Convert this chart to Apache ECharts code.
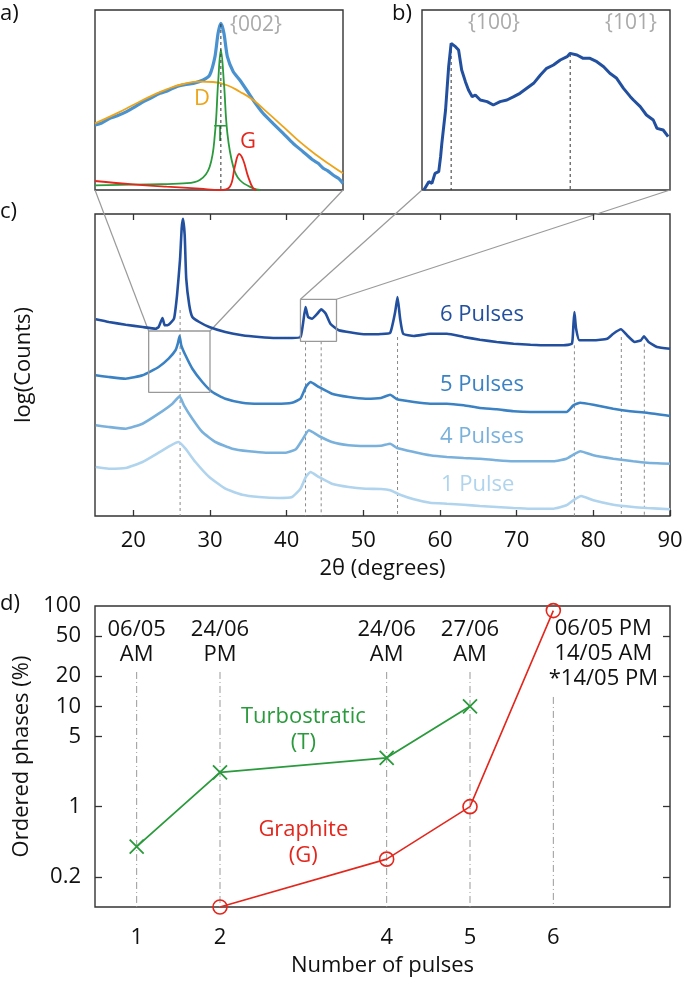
<!DOCTYPE html>
<html><head><meta charset="utf-8">
<script src="https://cdn.jsdelivr.net/npm/echarts@6/dist/echarts.min.js"></script>
<style>html,body{margin:0;padding:0;background:#fff}#chart{width:685px;height:987px}</style>
</head><body><div id="chart"></div>
<script>
// ---------- panel a: {002} peak decomposition (2θ, arb. intensity) ----------
const insetAMeasured = [[22.0,195],[22.2,200],[22.48,215],[22.7,222],[23.02,235],[23.3,250],[23.56,265],[23.8,276],[24.09,290],[24.35,298],[24.63,310],[24.9,316],[25.17,320],[25.49,330],[25.70,345],[25.87,400],[25.97,470],[26.06,500],[26.16,470],[26.27,400],[26.46,355],[26.67,330],[26.89,300],[27.10,270],[27.42,230],[27.74,200],[28.07,170],[28.39,140],[28.71,115],[29.03,90],[29.2,80],[29.36,65],[29.5,58],[29.68,45],[29.85,35],[30.0,20]];
const insetAD = [[22.0,200],[22.70,230],[23.23,255],[23.77,280],[24.31,302],[24.85,318],[25.38,325],[25.81,324],[26.24,315],[26.67,295],[27.10,270],[27.53,235],[28.07,190],[28.60,145],[29.14,105],[29.68,70],[30.0,50]];
const insetAT = [[22.0,14],[23.77,17],[24.85,20],[25.38,30],[25.70,70],[25.87,170],[25.97,320],[26.06,420],[26.16,320],[26.27,170],[26.46,70],[26.67,30],[27.10,5],[27.32,0]];
const insetAG = [[22.0,27],[23.23,17],[24.31,10],[25.38,4],[26.03,0],[26.35,10],[26.51,70],[26.65,108],[26.78,90],[26.94,40],[27.10,5],[27.21,0]];
const insetAPeak = [26.06, 498];
// ---------- panel b: {100} / {101} ----------
const insetBMeasured = [[42.03,0],[42.11,25],[42.16,20],[42.21,50],[42.27,55],[42.30,100],[42.32,140],[42.38,240],[42.43,370],[42.47,440],[42.54,430],[42.59,420],[42.64,360],[42.70,325],[42.75,300],[42.81,280],[42.86,285],[42.94,270],[43.05,265],[43.15,255],[43.26,265],[43.37,270],[43.48,280],[43.58,290],[43.69,305],[43.80,320],[43.91,345],[44.01,365],[44.12,375],[44.23,390],[44.34,400],[44.39,410],[44.50,405],[44.60,395],[44.71,395],[44.82,385],[44.93,370],[45.03,350],[45.14,335],[45.25,305],[45.36,280],[45.41,270],[45.52,250],[45.62,225],[45.73,210],[45.79,185],[45.89,180],[45.97,160]];
const insetBPeaks = [[42.47,438],[44.39,408]];
// ---------- panel c: XRD patterns, stacked log(Counts) (arb. offset) ----------
const pulses6 = [[15.1,196.7],[16.8,194],[19.0,191.3],[21.2,189],[22.9,187.3],[23.3,189],[23.8,198],[24.1,190.7],[24.6,191.3],[25.3,197.3],[25.7,220.7],[26.1,257.3],[26.3,287.3],[26.47,297.3],[26.7,280.7],[26.9,237.3],[27.3,210.7],[27.7,199],[28.6,194],[29.9,189],[32.0,184],[34.2,180.7],[36.4,179],[38.6,178],[40.7,178],[41.8,179],[42.1,190.7],[42.46,209],[42.8,199],[43.3,197.3],[44.0,202.3],[44.5,206.7],[45.1,202.3],[45.7,192.3],[46.8,185.7],[48.6,183.3],[50.3,181.7],[52.3,182],[53.5,183.3],[54.15,204],[54.46,219],[54.8,197.3],[55.2,182.3],[56.6,180],[58.7,182.3],[60.9,182.3],[63.1,179],[65.2,176.3],[67.4,174],[69.6,172.3],[71.8,171.3],[73.9,170.7],[76.1,170.7],[77.2,172.3],[77.4,190.7],[77.53,204],[77.75,187.3],[78.2,175.7],[80.0,175.7],[81.8,177.3],[82.6,182.3],[83.6,186.7],[84.4,180.7],[85.4,174],[86.2,175.7],[86.6,179.7],[87.2,174],[88.3,169],[90,167.3]];
const pulses5 = [[15.1,140.7],[16.8,139],[19.0,137.3],[21.2,140.7],[23.3,149],[24.6,157.3],[25.5,165.7],[25.8,172.3],[26.03,180],[26.25,170.7],[26.8,160.7],[27.7,147.3],[29.0,134],[30.3,124],[32.0,117.3],[34.2,113.3],[36.4,112.3],[38.6,112.3],[40.7,113.3],[41.8,117.3],[42.5,129],[43.1,134],[44.2,129],[45.9,122.3],[48.1,119],[50.3,117.3],[52.3,118],[53.5,121.3],[54.4,116.7],[56.6,114],[58.7,112.3],[60.9,112.3],[63.1,110.7],[65.2,108],[67.4,106.7],[69.6,104.7],[71.8,104],[73.9,104],[76.5,104],[77.4,110.7],[78.3,113.3],[80.0,111.3],[82.6,107.3],[84.8,104.7],[87.0,103.3],[90,100]];
const pulses4 = [[15.1,90.7],[16.8,89],[19.0,87.3],[21.2,92.3],[23.3,102.3],[25.1,112.3],[26.03,119.7],[26.6,110.7],[27.7,97.3],[29.0,84],[30.7,74],[32.9,67.3],[35.1,64.7],[37.3,63.3],[39.9,63.3],[41.2,66.7],[42.0,75.7],[42.9,85.7],[44.2,80],[45.9,74],[48.1,70.7],[50.3,70],[52.3,70.2],[53.5,72.3],[54.4,68],[56.6,64],[58.7,60.7],[60.9,59],[63.1,58],[65.2,57.3],[67.4,55.7],[69.6,54.7],[71.8,54.7],[74.8,54.7],[76.5,57.3],[77.4,61.3],[78.3,64.7],[80.0,60.7],[82.6,57.3],[85.2,54.7],[87.0,53.3],[90,52.3]];
const pulses1 = [[15.1,49],[16.8,47.3],[19.0,48],[21.2,54],[23.3,63.3],[24.9,70.7],[25.9,74],[26.8,67.3],[28.1,54],[29.9,39],[32.0,27.3],[34.2,21.3],[36.4,19],[39.0,18],[40.7,19],[41.8,27.3],[42.5,39],[43.1,44],[44.2,39],[45.9,32.3],[48.1,29],[50.3,27.3],[52.3,27],[53.5,25.7],[54.8,21.3],[56.6,16.7],[58.7,13.3],[60.9,12.3],[63.1,11.3],[65.2,10],[67.4,9],[69.6,8],[71.8,7.3],[74.8,7.3],[76.5,10.7],[77.4,15.7],[78.4,20],[80.0,15.7],[82.6,11.3],[85.2,9],[87.0,8],[90,6.7]];
const seriesNames = ['6 Pulses','5 Pulses','4 Pulses','1 Pulse'];
const refPeaks = [26.1, 42.46, 44.5, 54.46, 77.53, 83.65, 86.65];
const refPeakTops = [206, 174.7, 174.7, 179, 170.7, 179, 172.3];
const zoomBoxA = [22, 30, 123.7, 185];      // x0, x1, y0, y1
const zoomBoxB = [41.8, 46.5, 174.7, 216.7];
const cXTicks = [20,30,40,50,60,70,80,90];
// ---------- panel d: ordered phases ----------
const pulseNumbers = [1,2,4,5,6];
const turbostratic = [[1,0.4],[2,2.2],[4,3.07],[5,10]];
const graphite = [[2,0.1],[4,0.3],[5,1],[6,90]];
const dateLabels = ['06/05\nAM','24/06\nPM','24/06\nAM','27/06\nAM','06/05 PM\n14/05 AM\n*14/05 PM'];
const dateLabelPos = [[1,43.3],[2,43.3],[4,43.3],[5,43.3],[6.6,33.3]];
const dateLineTops = [22,22,22,22,12.4];
const dYTicks = [0.2,1,5,10,20,50,100];
const phaseLabels = [['Turbostratic\n(T)',3.0,5.86],['Graphite\n(G)',3.0,0.44]];

const FONT = "'Open Sans', 'DejaVu Sans', sans-serif";
const C6 = '#22509f', C5 = '#3a82c3', C4 = '#79b1dc', C1 = '#b0d4ed';
const GREEN = '#2a9a3c', RED = '#e3271d', ORANGE = '#eea419', MBLUE = '#4a92cf';
const AX = '#333';

const chart = echarts.init(document.getElementById('chart'), null, {renderer:'canvas'});
const hidden = {axisLine:{show:false},axisTick:{show:false},axisLabel:{show:false},splitLine:{show:false}};
const lg = v => Math.log10(v);

const vline = (xi, yi, x, top, bottom, color, type, z) => ({
  type:'line', xAxisIndex:xi, yAxisIndex:yi, data:[[x,top],[x,bottom]], symbol:'none', silent:true,
  lineStyle:{color, width:1, type}, z: z||1, animation:false
});

const series = [];
// panel a
series.push({type:'line', xAxisIndex:0, yAxisIndex:0, data:insetAMeasured, symbol:'none', smooth:0.2, lineStyle:{color:MBLUE,width:3.2}, z:2});
series.push({type:'line', xAxisIndex:0, yAxisIndex:0, data:insetAD, symbol:'none', smooth:0.5, lineStyle:{color:ORANGE,width:1.8}, z:3});
series.push({type:'line', xAxisIndex:0, yAxisIndex:0, data:insetAT, symbol:'none', smooth:0.4, lineStyle:{color:GREEN,width:1.8}, z:3});
series.push({type:'line', xAxisIndex:0, yAxisIndex:0, data:insetAG, symbol:'none', smooth:0.4, lineStyle:{color:RED,width:1.8}, z:3});
series.push(vline(0,0,insetAPeak[0],insetAPeak[1],0,'#333',[3,3],4));
// panel b
series.push({type:'line', xAxisIndex:1, yAxisIndex:1, data:insetBMeasured, symbol:'none', lineStyle:{color:C6,width:3}, z:2});
insetBPeaks.forEach(p => series.push(vline(1,1,p[0],p[1],0,'#333',[3,3],1)));
// panel c
[pulses6,pulses5,pulses4,pulses1].forEach((d,i) => series.push({
  type:'line', name:seriesNames[i], xAxisIndex:2, yAxisIndex:2, data:d, symbol:'none', smooth:0.15,
  lineStyle:{color:[C6,C5,C4,C1][i], width:2.6}, z:3 }));
refPeaks.forEach((x,i) => series.push(vline(2,2,x,refPeakTops[i],0,'#8a8a8a',[3,3],1)));
[zoomBoxA, zoomBoxB].forEach(b => series.push({type:'line', xAxisIndex:2, yAxisIndex:2, symbol:'none', silent:true,
  data:[[b[0],b[3]],[b[1],b[3]],[b[1],b[2]],[b[0],b[2]],[b[0],b[3]]], lineStyle:{color:'#999',width:1.3}, z:4}));
// panel d
pulseNumbers.forEach((x,i) => series.push(vline(4,3,x,lg(dateLineTops[i]),lg(0.1),'#999',[7,3,1,3],1)));
series.push({type:'line', xAxisIndex:4, yAxisIndex:3, data:turbostratic.map(p=>[p[0],lg(p[1])]),
  symbol:'path://M0,0L10,10M10,0L0,10', symbolSize:14, clip:false,
  itemStyle:{color:'rgba(0,0,0,0)', borderColor:GREEN, borderWidth:1.8},
  lineStyle:{color:GREEN,width:1.8}, z:5});
series.push({type:'line', xAxisIndex:4, yAxisIndex:3, data:graphite.map(p=>[p[0],lg(p[1])]),
  symbol:'circle', symbolSize:14, clip:false,
  itemStyle:{color:'rgba(0,0,0,0)', borderColor:RED, borderWidth:1.6},
  lineStyle:{color:RED,width:1.6}, z:5});
series.push({type:'scatter', xAxisIndex:4, yAxisIndex:3, symbolSize:0, silent:true, itemStyle:{opacity:1},
  data:dateLabels.map((t,i)=>({value:[dateLabelPos[i][0], lg(dateLabelPos[i][1])], name:t})),
  label:{show:true, position:'inside', formatter:p=>p.name, color:'#111', opacity:1, fontSize:22, lineHeight:25, fontFamily:FONT}, z:6});
series.push({type:'scatter', xAxisIndex:4, yAxisIndex:3, symbolSize:0, silent:true, itemStyle:{opacity:1},
  data:phaseLabels.map((t,i)=>({value:[t[1], lg(t[2])], name:t[0], label:{color:i?RED:GREEN}})),
  label:{show:true, position:'inside', formatter:p=>p.name, opacity:1, fontSize:22, lineHeight:26, fontFamily:FONT}, z:6});

const gridStyle = {show:true, borderColor:AX, borderWidth:1.4, backgroundColor:'transparent', containLabel:false, outerBoundsMode:'none'};
const labelStyle = {color:'#111', fontSize:22, fontFamily:FONT};
const option = {
  animation:false,
  backgroundColor:'#fff',
  grid:[
    Object.assign({left:95, top:10, width:248, height:180}, gridStyle),
    Object.assign({left:422, top:10, width:248, height:180}, gridStyle),
    Object.assign({left:95, top:214, width:575, height:302}, gridStyle),
    Object.assign({left:95, top:606, width:575, height:301}, gridStyle)
  ],
  xAxis:[
    Object.assign({type:'value', gridIndex:0, min:22, max:30}, hidden),
    Object.assign({type:'value', gridIndex:1, min:42, max:46}, hidden),
    {type:'value', gridIndex:2, min:15, max:90, position:'bottom', axisLine:{show:false}, splitLine:{show:false},
      axisTick:{show:true, inside:true, length:6, customValues:cXTicks, lineStyle:{color:AX,width:1.3}},
      axisLabel:Object.assign({customValues:cXTicks, margin:14}, labelStyle),
      name:'2θ (degrees)', nameLocation:'middle', nameGap:42, nameTextStyle:labelStyle},
    {type:'value', gridIndex:2, min:15, max:90, position:'top', axisLine:{show:false}, splitLine:{show:false}, axisLabel:{show:false},
      axisTick:{show:true, inside:true, length:6, customValues:cXTicks.slice(0,-1), lineStyle:{color:AX,width:1.3}}},
    {type:'value', gridIndex:3, min:0.5, max:7.4, axisLine:{show:false}, splitLine:{show:false}, axisTick:{show:false},
      axisLabel:Object.assign({customValues:pulseNumbers, margin:20}, labelStyle),
      name:'Number of pulses', nameLocation:'middle', nameGap:48, nameTextStyle:labelStyle}
  ],
  yAxis:[
    Object.assign({type:'value', gridIndex:0, min:0, max:540}, hidden),
    Object.assign({type:'value', gridIndex:1, min:0, max:540}, hidden),
    Object.assign({type:'value', gridIndex:2, min:0, max:302, name:'log(Counts)', nameLocation:'middle', nameGap:60, nameTextStyle:labelStyle}, hidden),
    {type:'value', gridIndex:3, min:-1, max:2, position:'left', axisLine:{show:false}, splitLine:{show:false},
      axisTick:{show:true, inside:true, length:7, customValues:dYTicks.slice(0,-1).map(lg), lineStyle:{color:AX,width:1.3}},
      axisLabel:Object.assign({customValues:dYTicks.map(lg), margin:14, formatter:v=>{const p=Math.pow(10,v); return p<1? p.toFixed(1): String(Math.round(p));}}, labelStyle),
      name:'Ordered phases (%)', nameLocation:'middle', nameGap:58, nameTextStyle:labelStyle},
    {type:'value', gridIndex:3, min:-1, max:2, position:'right', axisLine:{show:false}, splitLine:{show:false}, axisLabel:{show:false},
      axisTick:{show:true, inside:true, length:7, customValues:dYTicks.slice(0,-1).map(lg), lineStyle:{color:AX,width:1.3}}}
  ],
  series,
  graphic:[
    {id:'la', type:'text', left:0, top:3, style:{text:'a)', fill:'#111', font:'22px '+FONT}},
    {id:'lb', type:'text', left:392, top:3, style:{text:'b)', fill:'#111', font:'22px '+FONT}},
    {id:'lc', type:'text', left:0, top:201, style:{text:'c)', fill:'#111', font:'22px '+FONT}},
    {id:'ld', type:'text', left:0, top:593, style:{text:'d)', fill:'#111', font:'22px '+FONT}},
    {id:'t002', type:'text', left:230, top:15, style:{text:'{002}', fill:'#aaa', font:'21px '+FONT}},
    {id:'t100', type:'text', left:468, top:13, style:{text:'{100}', fill:'#aaa', font:'21px '+FONT}},
    {id:'t101', type:'text', left:605, top:13, style:{text:'{101}', fill:'#aaa', font:'21px '+FONT}},
    {id:'tD', type:'text', left:194, top:88, style:{text:'D', fill:ORANGE, font:'22px '+FONT}},
    {id:'tT', type:'text', left:214, top:124, style:{text:'T', fill:GREEN, font:'22px '+FONT}},
    {id:'tG', type:'text', left:240, top:131, style:{text:'G', fill:RED, font:'22px '+FONT}},
    {id:'p6', type:'text', left:440, top:304, style:{text:'6 Pulses', fill:C6, font:'22px '+FONT}},
    {id:'p5', type:'text', left:440, top:374, style:{text:'5 Pulses', fill:C5, font:'22px '+FONT}},
    {id:'p4', type:'text', left:440, top:426, style:{text:'4 Pulses', fill:C4, font:'22px '+FONT}},
    {id:'p1', type:'text', left:441, top:474, style:{text:'1 Pulse', fill:C1, font:'22px '+FONT}}
  ]
};
chart.setOption(option);

// connector lines from zoom boxes (panel c) to insets a and b, positioned via the axes' scales
const px = (g, v) => chart.convertToPixel({gridIndex:g}, v);
const aBL = px(0,[22,0]), aBR = px(0,[30,0]);
const bBL = px(1,[42,0]), bBR = px(1,[46,0]);
const boxA_TL = px(2,[zoomBoxA[0],zoomBoxA[3]]), boxA_TR = px(2,[zoomBoxA[1],zoomBoxA[3]]);
const boxB_TL = px(2,[zoomBoxB[0],zoomBoxB[3]]), boxB_TR = px(2,[zoomBoxB[1],zoomBoxB[3]]);
const conn = (id,p,q) => ({id, type:'line', z:0, shape:{x1:p[0],y1:p[1],x2:q[0],y2:q[1]}, style:{stroke:'#9a9a9a', lineWidth:1.2}});
chart.setOption({graphic:[conn('c1',aBL,boxA_TL), conn('c2',aBR,boxA_TR), conn('c3',bBL,boxB_TL), conn('c4',bBR,boxB_TR)]});
</script></body></html>
